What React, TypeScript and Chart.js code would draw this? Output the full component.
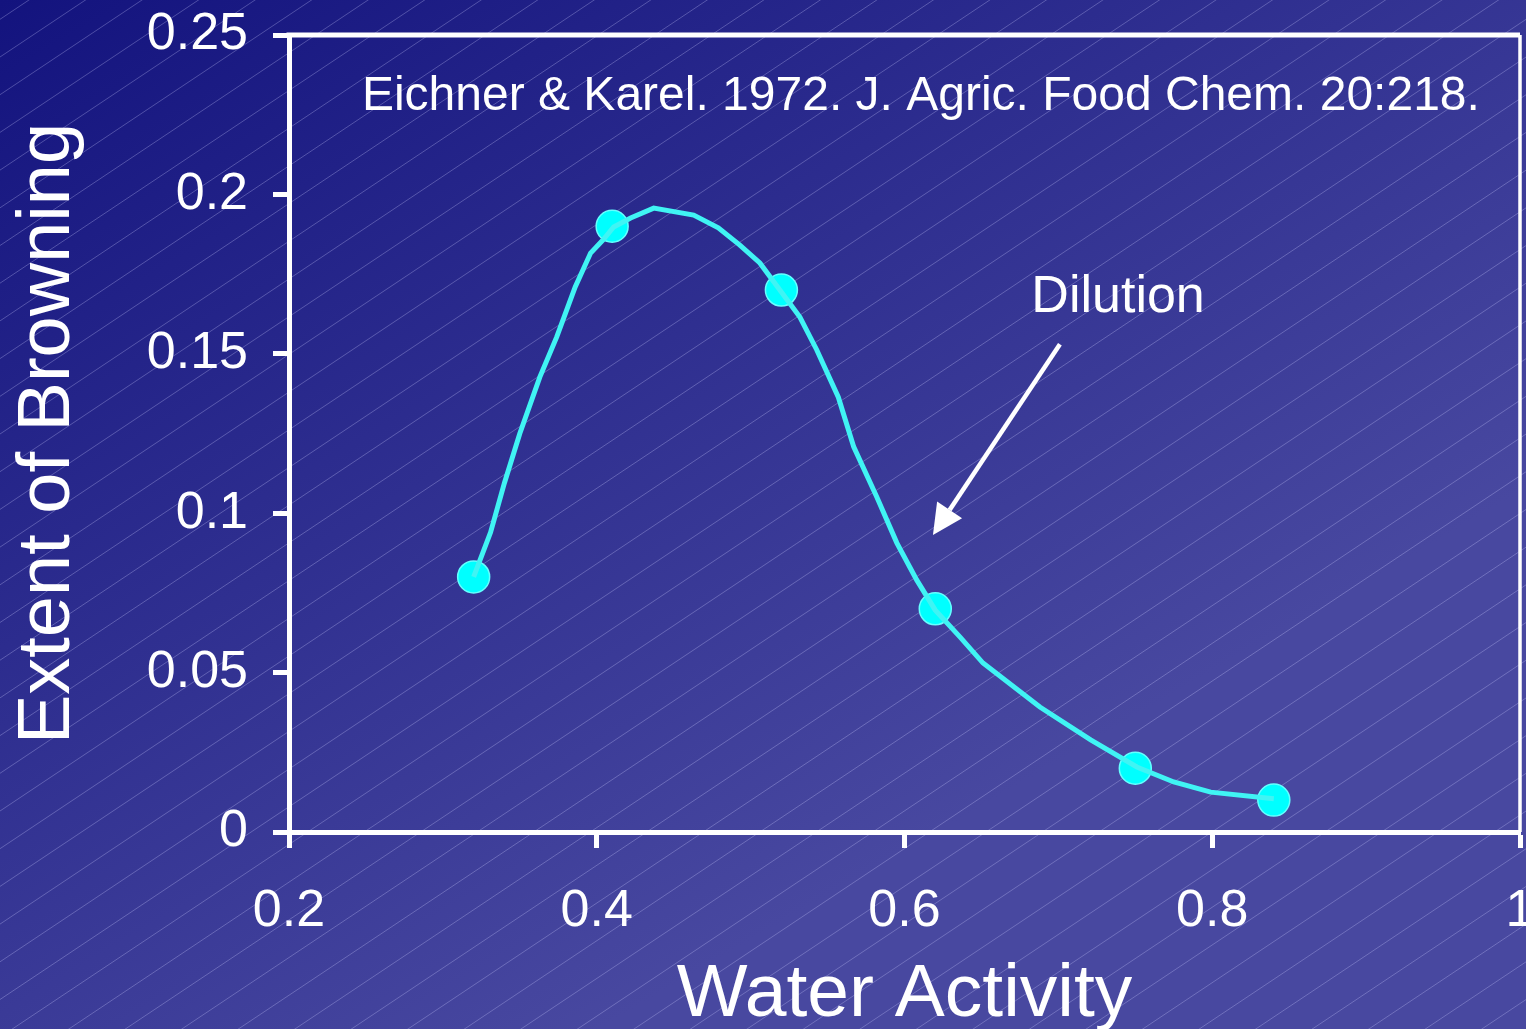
import React, { useEffect, useRef } from 'react';
import { Chart, registerables } from 'chart.js';

Chart.register(...registerables);

// Measured data points (water activity, extent of browning)
const pointAw = [0.32, 0.41, 0.52, 0.62, 0.75, 0.84];
const pointBrowning = [0.08, 0.19, 0.17, 0.07, 0.02, 0.01];

// Hand-drawn fitted curve
const curveAw = [
  0.32, 0.331, 0.34, 0.35, 0.363, 0.374, 0.386, 0.396, 0.404, 0.411, 0.422, 0.437,
  0.463, 0.479, 0.493, 0.506, 0.519, 0.532, 0.543, 0.557, 0.567, 0.582, 0.595, 0.608,
  0.62, 0.636, 0.651, 0.688, 0.721, 0.751, 0.775, 0.799, 0.84,
];
const curveBrowning = [
  0.08, 0.094, 0.1095, 0.125, 0.1427, 0.1553, 0.171, 0.1816, 0.1857, 0.1898, 0.1926, 0.1957,
  0.1935, 0.1895, 0.1841, 0.1785, 0.17, 0.1615, 0.1512, 0.1364, 0.1208, 0.1051, 0.0907, 0.079,
  0.0696, 0.0612, 0.053, 0.0392, 0.0289, 0.0204, 0.0157, 0.0125, 0.0104,
];

const xTickValues = [0.2, 0.4, 0.6, 0.8, 1];
const xTickLabels = ['0.2', '0.4', '0.6', '0.8', '1'];
const yTickValues = [0, 0.05, 0.1, 0.15, 0.2, 0.25];
const yTickLabels = ['0', '0.05', '0.1', '0.15', '0.2', '0.25'];

const xTitle = 'Water Activity';
const yTitle = 'Extent of Browning';
const citationText = 'Eichner & Karel. 1972. J. Agric. Food Chem. 20:218.';
const dilutionText = 'Dilution';

// Annotation anchors in data units
const citationAt = { x: 0.2474, y: 0.2265 };
const dilutionAt = { x: 0.7388, y: 0.163 };
const arrowFrom = { x: 0.701, y: 0.153 };
const arrowTo = { x: 0.6185, y: 0.0932 };

const FONT = '"Liberation Sans", Arial, Helvetica, sans-serif';

const backgroundPlugin = {
  id: 'slideBackground',
  beforeDraw(chart: any) {
    const { ctx, width, height } = chart;
    ctx.save();
    const g = ctx.createLinearGradient(0, 0, 600, 1029);
    g.addColorStop(0, '#13137e');
    g.addColorStop(1, '#4848a0');
    ctx.fillStyle = g;
    ctx.fillRect(0, 0, width, height);
    // diagonal hatch
    ctx.strokeStyle = 'rgba(205,205,255,0.30)';
    ctx.lineWidth = 1;
    const m = 0.667;
    const step = 37.7;
    const phase = 19.3;
    const cMax = height + m * width + step;
    for (let c = phase - step * 2; c < cMax; c += step) {
      ctx.beginPath();
      ctx.moveTo(0, c);
      ctx.lineTo(width, c - m * width);
      ctx.stroke();
    }
    ctx.restore();
  },
};

const framePlugin = {
  id: 'frameAndNotes',
  afterDraw(chart: any) {
    const { ctx, chartArea } = chart;
    const xs = chart.scales.x;
    const ys = chart.scales.y;
    ctx.save();
    ctx.strokeStyle = '#ffffff';
    // top & right frame
    ctx.lineWidth = 5;
    ctx.beginPath();
    ctx.moveTo(chartArea.left - 2.5, chartArea.top);
    ctx.lineTo(chartArea.right, chartArea.top);
    ctx.stroke();
    ctx.lineWidth = 3.5;
    ctx.beginPath();
    ctx.moveTo(chartArea.right, chartArea.top);
    ctx.lineTo(chartArea.right, chartArea.bottom);
    ctx.stroke();

    // citation
    ctx.fillStyle = '#ffffff';
    ctx.textBaseline = 'alphabetic';
    ctx.textAlign = 'left';
    ctx.font = `48px ${FONT}`;
    ctx.fillText(citationText, xs.getPixelForValue(citationAt.x), ys.getPixelForValue(citationAt.y));

    // Dilution label
    ctx.textAlign = 'center';
    ctx.font = `52px ${FONT}`;
    ctx.fillText(dilutionText, xs.getPixelForValue(dilutionAt.x), ys.getPixelForValue(dilutionAt.y));

    // arrow
    const x1 = xs.getPixelForValue(arrowFrom.x);
    const y1 = ys.getPixelForValue(arrowFrom.y);
    const x2 = xs.getPixelForValue(arrowTo.x);
    const y2 = ys.getPixelForValue(arrowTo.y);
    const ang = Math.atan2(y2 - y1, x2 - x1);
    const headLen = 30;
    const headHalf = 15;
    const bx = x2 - headLen * Math.cos(ang);
    const by = y2 - headLen * Math.sin(ang);
    ctx.lineWidth = 4.5;
    ctx.beginPath();
    ctx.moveTo(x1, y1);
    ctx.lineTo(bx, by);
    ctx.stroke();
    ctx.beginPath();
    ctx.moveTo(x2, y2);
    ctx.lineTo(bx + headHalf * Math.sin(ang), by - headHalf * Math.cos(ang));
    ctx.lineTo(bx - headHalf * Math.sin(ang), by + headHalf * Math.cos(ang));
    ctx.closePath();
    ctx.fill();
    ctx.restore();
  },
};

export default function App() {
  const canvasRef = useRef<HTMLCanvasElement | null>(null);

  useEffect(() => {
    document.body.style.margin = '0';
    const canvas = canvasRef.current;
    if (!canvas) return;

    const chart = new Chart(canvas, {
      type: 'scatter',
      data: {
        datasets: [
          {
            label: 'curve',
            data: curveAw.map((x, i) => ({ x, y: curveBrowning[i] })),
            showLine: true,
            borderColor: '#40f4f4',
            borderWidth: 5,
            pointRadius: 0,
            pointHoverRadius: 0,
            tension: 0,
            order: 0,
          },
          {
            label: 'measured',
            data: pointAw.map((x, i) => ({ x, y: pointBrowning[i] })),
            showLine: false,
            backgroundColor: '#00ffff',
            borderColor: '#66ffff',
            borderWidth: 1.5,
            pointRadius: 16,
            pointHoverRadius: 16,
            order: 1,
          },
        ],
      },
      options: {
        animation: false,
        responsive: false,
        maintainAspectRatio: false,
        events: [],
        layout: { autoPadding: false, padding: { top: 35, right: 6, left: 0, bottom: 0 } },
        plugins: {
          legend: { display: false },
          tooltip: { enabled: false },
        },
        scales: {
          x: {
            type: 'linear',
            min: 0.2,
            max: 1,
            afterBuildTicks: (scale: any) => {
              scale.ticks = xTickValues.map((v) => ({ value: v }));
            },
            afterFit: (scale: any) => {
              scale.height = 197;
              scale.paddingLeft = 0;
              scale.paddingRight = 0;
            },
            ticks: {
              color: '#ffffff',
              font: { family: FONT, size: 52 },
              padding: 32,
              maxRotation: 0,
              autoSkip: false,
              callback: (_v: any, i: number) => xTickLabels[i],
            },
            grid: {
              display: true,
              drawOnChartArea: false,
              drawTicks: true,
              tickLength: 16,
              tickWidth: 5,
              tickColor: '#ffffff',
              color: '#ffffff',
            },
            border: { display: true, color: '#ffffff', width: 5 },
            title: {
              display: true,
              text: xTitle,
              color: '#ffffff',
              font: { family: FONT, size: 75, lineHeight: 0.85 },
              padding: { top: 0, bottom: 2 },
            },
          },
          y: {
            type: 'linear',
            min: 0,
            max: 0.25,
            afterBuildTicks: (scale: any) => {
              scale.ticks = yTickValues.map((v) => ({ value: v }));
            },
            afterFit: (scale: any) => {
              scale.width = 289;
              scale.paddingTop = 0;
              scale.paddingBottom = 0;
            },
            ticks: {
              color: '#ffffff',
              font: { family: FONT, size: 52 },
              padding: 25,
              autoSkip: false,
              callback: (_v: any, i: number) => yTickLabels[i],
            },
            grid: {
              display: true,
              drawOnChartArea: false,
              drawTicks: true,
              tickLength: 16,
              tickWidth: 5,
              tickColor: '#ffffff',
              color: '#ffffff',
            },
            border: { display: true, color: '#ffffff', width: 5 },
            title: {
              display: true,
              text: yTitle,
              color: '#ffffff',
              font: { family: FONT, size: 74, lineHeight: 1 },
              padding: { top: 12, bottom: 0 },
            },
          },
        },
      } as any,
      plugins: [backgroundPlugin, framePlugin],
    });

    return () => {
      chart.destroy();
    };
  }, []);

  return (
    <div style={{ position: 'absolute', left: 0, top: 0, width: 1526, height: 1029, overflow: 'hidden' }}>
      <canvas ref={canvasRef} width={1526} height={1029} style={{ display: 'block', width: 1526, height: 1029 }} />
    </div>
  );
}
